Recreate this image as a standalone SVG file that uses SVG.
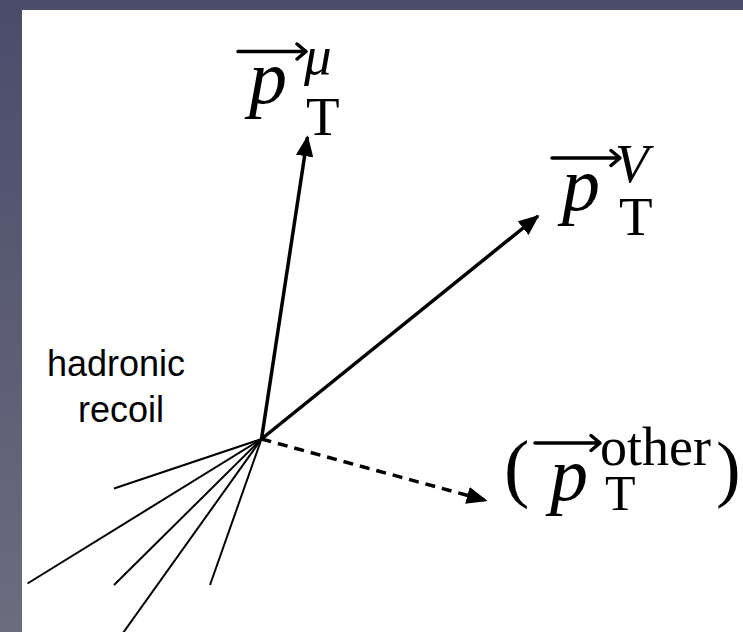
<svg xmlns="http://www.w3.org/2000/svg" width="743" height="632" viewBox="0 0 743 632">
  <style>
    .serif { font-family: "Liberation Serif", "Times New Roman", serif; fill: #000; }
    .it { font-style: italic; }
    .sans { font-family: "Liberation Sans", Arial, sans-serif; fill: #000; font-size: 36px; text-anchor: middle; }
    .thin { stroke: #000; stroke-width: 2; fill: none; stroke-linecap: butt; }
    .vec { stroke: #000; stroke-width: 3.5; fill: none; }
    .acc { stroke: #000; stroke-width: 3.5; fill: none; stroke-linecap: round; stroke-linejoin: round; }
  </style>
  <defs>
    <linearGradient id="bg" x1="0" y1="0" x2="0" y2="1">
      <stop offset="0" stop-color="#4a4c6a"/>
      <stop offset="1" stop-color="#6c6c7f"/>
    </linearGradient>
    <marker id="head" markerWidth="6" markerHeight="5" refX="5.5" refY="2.5" orient="auto" markerUnits="strokeWidth">
      <path d="M0,0 L6,2.5 L0,5 Z" fill="#000"/>
    </marker>
  </defs>
  <rect x="0" y="0" width="743" height="632" fill="url(#bg)"/>
  <rect x="22" y="10" width="721" height="622" fill="#fff"/>

  <g id="connectors">
    <line class="vec" x1="261.5" y1="439" x2="307.5" y2="137" marker-end="url(#head)"/>
    <line class="vec" x1="261.5" y1="439" x2="538" y2="216" marker-end="url(#head)"/>
    <line class="vec" x1="261.5" y1="439" x2="486" y2="500.5" stroke-dasharray="10,7" marker-end="url(#head)"/>
  </g>

  <g id="recoil">
    <line class="thin" x1="261.5" y1="439" x2="114" y2="488.5"/>
    <line class="thin" x1="261.5" y1="439" x2="27.5" y2="583.5"/>
    <line class="thin" x1="261.5" y1="439" x2="114" y2="585"/>
    <line class="thin" x1="261.5" y1="439" x2="118" y2="640"/>
    <line class="thin" x1="261.5" y1="439" x2="210" y2="585"/>
    <text class="sans" x="116" y="376">hadronic</text>
    <text class="sans" x="121" y="422">recoil</text>
  </g>

  <g id="label-mu">
    <path class="acc" d="M238,51.5 H305 M297,44 L306,51.5 L297,59"/>
    <text class="serif it" x="249" y="103" font-size="76">p</text>
    <text class="serif it" x="304" y="74" font-size="55">μ</text>
    <text class="serif" x="306" y="135" font-size="55">T</text>
  </g>

  <g id="label-V">
    <path class="acc" d="M552,158 H619 M611,150.5 L620,158 L611,165.5"/>
    <text class="serif it" x="562" y="210" font-size="76">p</text>
    <text class="serif it" x="615" y="182" font-size="55">V</text>
    <text class="serif" x="619" y="235" font-size="55">T</text>
  </g>

  <g id="label-other">
    <text class="serif" x="504" y="493" font-size="76">(</text>
    <path class="acc" d="M535,443 H599 M591,435.5 L600,443 L591,450.5"/>
    <text class="serif it" x="550" y="500" font-size="76">p</text>
    <text class="serif" x="600" y="465" font-size="54">other</text>
    <text class="serif" x="605" y="510" font-size="50">T</text>
    <text class="serif" x="716" y="493" font-size="74">)</text>
  </g>
</svg>
